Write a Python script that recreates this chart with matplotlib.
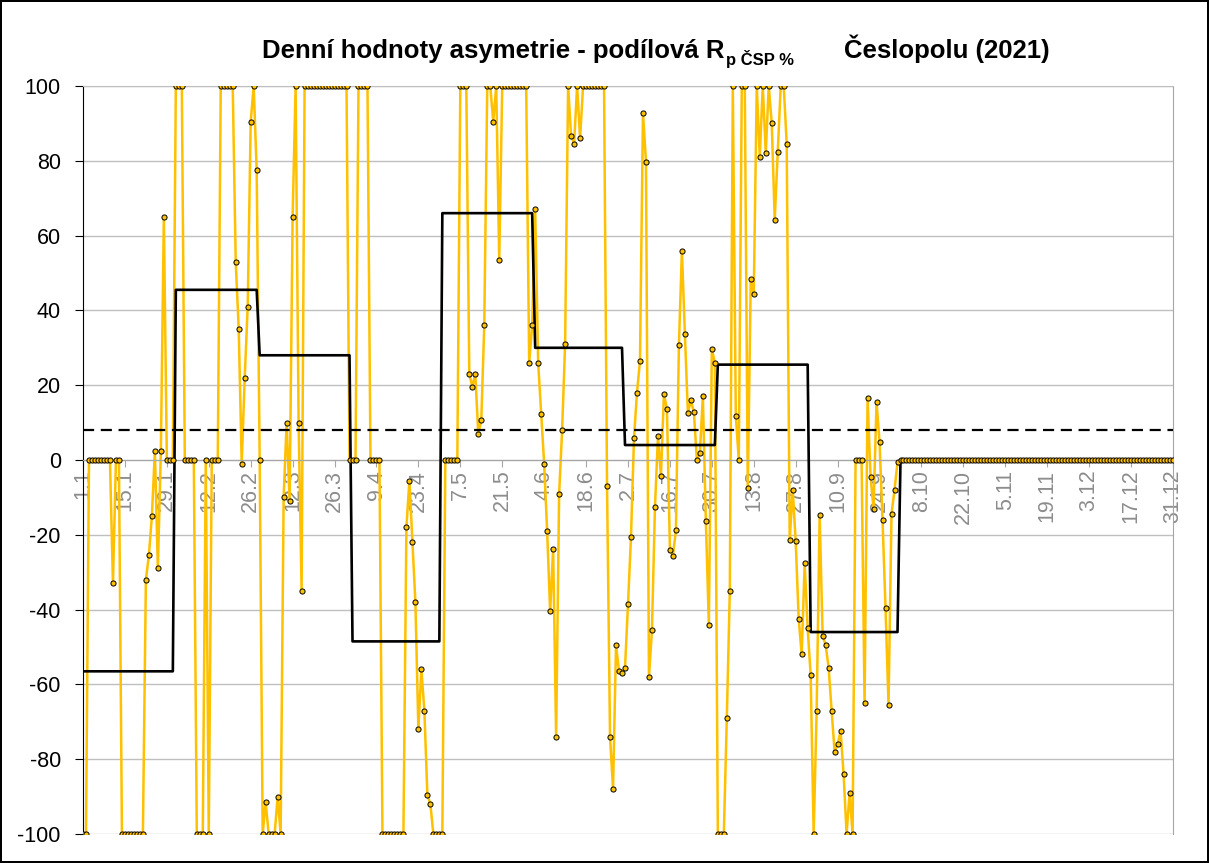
import datetime
import numpy as np
import matplotlib.pyplot as plt

plt.rcParams['font.family'] = ['Liberation Sans', 'DejaVu Sans']
plt.rcParams['axes.unicode_minus'] = False

# daily values of the asymmetry (%), one list per month of 2021
jan = [-100, -100, 0, 0, 0, 0, 0, 0, 0, 0, -33, 0, 0,
       -100, -100, -100, -100, -100, -100, -100, -100,
       -32, -25.5, -15, 2.4, -29, 2.4, 65, 0, 0, 0]
feb = [100, 100, 100, 0, 0, 0, 0, -100, -100, -100, 0, -100, 0, 0, 0,
       100, 100, 100, 100, 100, 53, 35, -1, 22, 41, 90.5, 100, 77.5]
mar = [0, -100, -91.5, -100, -100, -100, -90, -100, -10, 10, -11, 65, 100, 10, -35,
       100, 100, 100, 100, 100, 100, 100, 100, 100, 100, 100, 100, 100, 100, 100, 0]
apr = [0, 0, 100, 100, 100, 100, 0, 0, 0, 0,
       -100, -100, -100, -100, -100, -100, -100, -100,
       -18, -5.5, -22, -38, -72, -56, -67, -89.5, -92, -100, -100, -100]
may = [-100, 0, 0, 0, 0, 0, 100, 100, 100, 23, 19.6, 23, 7, 10.6, 36,
       100, 100, 90.5, 100, 53.5, 100, 100, 100, 100, 100, 100, 100, 100, 100, 26, 36]
jun = [67, 26, 12.3, -1, -19, -40.5, -23.7, -74, -9, 8, 31, 100, 86.7, 84.5, 100, 86,
       100, 100, 100, 100, 100, 100, 100, 100, -7, -74, -88, -49.5, -56.5, -57]
jul = [-55.5, -38.6, -20.5, 5.8, 18, 26.5, 92.8, 79.8, -58, -45.5,
       -12.7, 6.3, -4.3, 17.7, 13.6, -24, -25.6, -18.8, 30.7, 56,
       33.6, 12.5, 16, 12.8, 0, 2, 17, -16.4, -44, 29.7, 26]
aug = [-100, -100, -100, -69, -35, 100, 11.8, 0, 100, 100, -7.5, 48.5, 44.3, 100, 81,
       100, 82, 100, 90, 64.3, 82.4, 100, 100, 84.5, -21.3, -8, -21.7, -42.5, -52, -27.6, -45]
sep = [-57.5, -100, -67, -14.6, -47, -49.5, -55.5, -67, -78, -76, -72.5, -84, -100, -89, -100,
       0, 0, 0, -65, 16.5, -4.5, -13, 15.5, 4.8, -16, -39.7, -65.5, -14.4, -8, -0.6]
oct_ = [0] * 31
nov = [0] * 30
dec = [0] * 31
months = [jan, feb, mar, apr, may, jun, jul, aug, sep, oct_, nov, dec]

# monthly asymmetry (black step) and yearly value (dashed)
monthly = [-56.5, 45.5, 28, -48.5, 66, 30, 4, 25.5, -46, 0, 0, 0]
yearly = 8

tick_labels = ['1.1', '15.1', '29.1', '12.2', '26.2', '12.3', '26.3', '9.4', '23.4',
               '7.5', '21.5', '4.6', '18.6', '2.7', '16.7', '30.7', '13.8', '27.8',
               '10.9', '24.9', '8.10', '22.10', '5.11', '19.11', '3.12', '17.12', '31.12']

daily = np.concatenate([np.array(m, dtype=float) for m in months])
step = np.repeat(monthly, [len(m) for m in months])
days = np.arange(len(daily))
start = datetime.date(2021, 1, 1)
tick_pos = [(datetime.date(2021, int(s.split('.')[1]), int(s.split('.')[0])) - start).days
            for s in tick_labels]

W, H = 1209, 863
fig = plt.figure(figsize=(W / 100, H / 100), dpi=100)
fig.patch.set_edgecolor('black')
fig.patch.set_linewidth(1.5)
ax = fig.add_axes([83 / W, 29 / H, 1090 / W, 748 / H])

ax.plot(days, daily, color='#FFC000', lw=1.8, zorder=2)
ax.plot(days, step, color='black', lw=1.9, zorder=3)
ax.plot(days, daily, ls='none', marker='o', ms=3.7, mfc='#FFC000', mec='black', mew=0.7, zorder=4)
ax.axhline(yearly, color='black', lw=1.6, ls=(0, (5, 3)), zorder=3)

ax.set_xlim(days[0], days[-1])
ax.set_ylim(-100, 100)
ax.set_yticks(range(-100, 101, 20))
ax.yaxis.grid(True, color='#BFBFBF', lw=1)
ax.set_axisbelow(True)

ax.spines['bottom'].set_position(('data', 0))
ax.spines['bottom'].set_color('#A6A6A6')
ax.spines['left'].set_color('black')
ax.spines['right'].set_color('#A6A6A6')
ax.spines['top'].set_color('#BFBFBF')

ax.set_xticks(tick_pos)
ax.set_xticklabels(tick_labels)
ax.tick_params(axis='x', direction='out', length=5, color='#A6A6A6', labelcolor='#8C8C8C',
               labelsize=15.5, labelrotation=90, pad=2)
ax.tick_params(axis='y', direction='out', length=6, color='black', labelsize=15.5, pad=10)

# title with subscript
fig.canvas.draw()
r = fig.canvas.get_renderer()
ty = 1 - 58 / H
t1 = fig.text(262 / W, ty, 'Denní hodnoty asymetrie - podílová R', fontsize=18.5,
              fontweight='bold', va='baseline', ha='left')
bb = t1.get_window_extent(renderer=r)
fig.text(bb.x1 / W + 1 / W, ty - 7 / H, 'p ČSP %', fontsize=12, fontweight='bold',
         va='baseline', ha='left')
fig.text(1050 / W, ty, 'Česlopolu (2021)', fontsize=18.5, fontweight='bold',
         va='baseline', ha='right')

fig.savefig('out.png', dpi=100, edgecolor=fig.get_edgecolor())
